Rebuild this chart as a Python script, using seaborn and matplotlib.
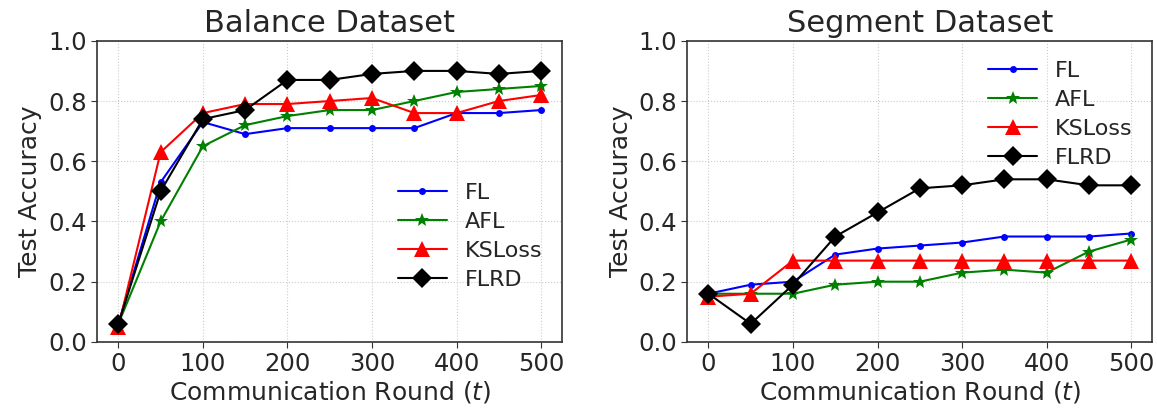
import numpy as np
import pandas as pd
import seaborn as sns
import matplotlib
matplotlib.use("Agg")
import matplotlib.pyplot as plt

rounds = [0, 50, 100, 150, 200, 250, 300, 350, 400, 450, 500]
methods = ["FL", "AFL", "KSLoss", "FLRD"]

# balance dataset
balance_fl = [0.06, 0.53, 0.73, 0.69, 0.71, 0.71, 0.71, 0.71, 0.76, 0.76, 0.77]
balance_afl = [0.06, 0.40, 0.65, 0.72, 0.75, 0.77, 0.77, 0.80, 0.83, 0.84, 0.85]
balance_ks = [0.05, 0.63, 0.76, 0.79, 0.79, 0.80, 0.81, 0.76, 0.76, 0.80, 0.82]
balance_flrd = [0.06, 0.50, 0.74, 0.77, 0.87, 0.87, 0.89, 0.90, 0.90, 0.89, 0.90]

# segment dataset
segment_fl = [0.16, 0.19, 0.20, 0.29, 0.31, 0.32, 0.33, 0.35, 0.35, 0.35, 0.36]
segment_afl = [0.16, 0.16, 0.16, 0.19, 0.20, 0.20, 0.23, 0.24, 0.23, 0.30, 0.34]
segment_ks = [0.15, 0.16, 0.27, 0.27, 0.27, 0.27, 0.27, 0.27, 0.27, 0.27, 0.27]
segment_flrd = [0.16, 0.06, 0.19, 0.35, 0.43, 0.51, 0.52, 0.54, 0.54, 0.52, 0.52]

styles = {
    "FL": dict(color="blue", marker="o", markersize=5),
    "AFL": dict(color="green", marker="*", markersize=10),
    "KSLoss": dict(color="red", marker="^", markersize=11),
    "FLRD": dict(color="black", marker="D", markersize=10),
}

sns.set_style("whitegrid", {"grid.linestyle": ":", "grid.color": "#cccccc",
                            "axes.edgecolor": "#333333", "xtick.bottom": True,
                            "ytick.left": True})
plt.rcParams["font.family"] = ["DejaVu Sans"]

fig = plt.figure(figsize=(11.57, 4.08), dpi=100)
ax1 = fig.add_axes([0.084, 0.162, 0.402, 0.738])
ax2 = fig.add_axes([0.594, 0.162, 0.402, 0.738])

panels = [
    (ax1, "Balance Dataset", [balance_fl, balance_afl, balance_ks, balance_flrd], 0.35),
    (ax2, "Segment Dataset", [segment_fl, segment_afl, segment_ks, segment_flrd], 0.755),
]

for ax, title, series, ly in panels:
    for name, vals in zip(methods, series):
        df = pd.DataFrame({"round": rounds, "acc": vals})
        sns.lineplot(data=df, x="round", y="acc", ax=ax, label=name,
                     linewidth=1.5, markeredgewidth=0, **styles[name])
    ax.set_ylim(0, 1.0)
    ax.set_xticks([0, 100, 200, 300, 400, 500])
    ax.set_yticks([0.0, 0.2, 0.4, 0.6, 0.8, 1.0])
    ax.set_yticklabels(["0.0", "0.2", "0.4", "0.6", "0.8", "1.0"])
    ax.tick_params(labelsize=17.5, length=4, color="#333333")
    ax.set_title(title, fontsize=22)
    ax.set_xlabel("Communication Round ($t$)", fontsize=18, labelpad=2)
    ax.set_ylabel("Test Accuracy", fontsize=18, labelpad=4)
    for sp in ax.spines.values():
        sp.set_linewidth(1.2)
    ax.legend(loc="center right", bbox_to_anchor=(1.0, ly), frameon=False,
              fontsize=16, handlelength=2.2, labelspacing=0.4)

fig.savefig("out.png", dpi=100)
